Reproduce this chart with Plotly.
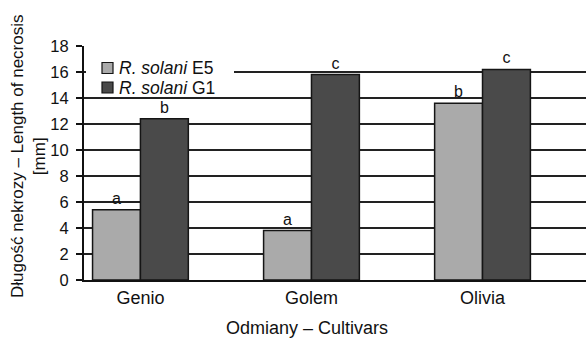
import plotly.graph_objects as go

cultivars = ["Genio", "Golem", "Olivia"]
e5_values = [5.4, 3.8, 13.6]
g1_values = [12.4, 15.8, 16.2]
e5_letters = ["a", "a", "b"]
g1_letters = ["b", "c", "c"]
y_ticks = [0, 2, 4, 6, 8, 10, 12, 14, 16, 18]
series_names = ["<i>R. solani</i> E5", "<i>R. solani</i> G1"]
series_colors = ["#aaaaaa", "#4a4a4a"]

FONT = "Liberation Sans, Arial, sans-serif"

# plot area in pixels: x 84..586, y 46..280
L, T, B, W, H = 84, 46, 65, 586, 345
PW, PH = W - L, H - T - B


def px(x):
    return (x - L) / PW


def py(y):
    return (H - B - y) / PH


fig = go.Figure()
for vals, letters, name, col in [(e5_values, e5_letters, series_names[0], series_colors[0]),
                                 (g1_values, g1_letters, series_names[1], series_colors[1])]:
    fig.add_trace(go.Bar(
        x=cultivars, y=vals, name=name,
        marker=dict(color=col, line=dict(color="#151515", width=1.5)),
        text=letters, textposition="outside", cliponaxis=False,
        textfont=dict(size=16, color="#111"),
    ))

fig.update_layout(
    width=W, height=H,
    margin=dict(l=L, r=0, t=T, b=B, autoexpand=False),
    paper_bgcolor="white", plot_bgcolor="white",
    font=dict(family=FONT, size=18, color="#111"),
    barmode="group", bargap=0.44, bargroupgap=0.0,
    showlegend=False,
)
fig.update_xaxes(
    range=[-0.33, 2.605], showline=True, linecolor="#111", linewidth=2,
    ticks="", tickfont=dict(size=18), showgrid=False, zeroline=False,
    automargin=False, ticklabelstandoff=0,
)
fig.update_yaxes(
    range=[0, 18], tickvals=y_ticks, showline=True, linecolor="#111", linewidth=2,
    ticks="outside", ticklen=6, tickwidth=1.5, tickcolor="#111",
    showgrid=True, gridcolor="#222", gridwidth=1.5, zeroline=False,
    tickfont=dict(size=16.5), automargin=False, ticklabelstandoff=4,
)

# y-axis title
fig.add_annotation(text="Długość nekrozy – Length of necrosis<br>[mm]", xref="paper", yref="paper",
                   x=px(28), y=py(156), xanchor="center", yanchor="middle", textangle=-90,
                   showarrow=False, font=dict(size=17))
# x-axis title
fig.add_annotation(text="Odmiany – Cultivars", xref="paper", yref="paper",
                   x=px(307), y=py(328), xanchor="center", yanchor="middle",
                   showarrow=False, font=dict(size=18))

# legend (white box covering gridline, swatches and labels)
fig.add_shape(type="rect", xref="paper", yref="paper", x0=px(86), x1=px(234), y0=py(95.5), y1=py(57),
              fillcolor="white", line=dict(width=0), layer="above")
for i, (name, col) in enumerate(zip(series_names, series_colors)):
    cy = 68 + i * 19.5
    fig.add_shape(type="rect", xref="paper", yref="paper", x0=px(102), x1=px(113),
                  y0=py(cy + 5.5), y1=py(cy - 5.5), fillcolor=col,
                  line=dict(color="#151515", width=1.2), layer="above")
    fig.add_annotation(text=name, xref="paper", yref="paper", x=px(117), y=py(cy),
                       xanchor="left", yanchor="middle", showarrow=False, font=dict(size=17.5))

fig.write_html("out.html", config={"displayModeBar": False},
               post_script="document.body.style.margin='0';document.body.style.overflow='hidden';")
